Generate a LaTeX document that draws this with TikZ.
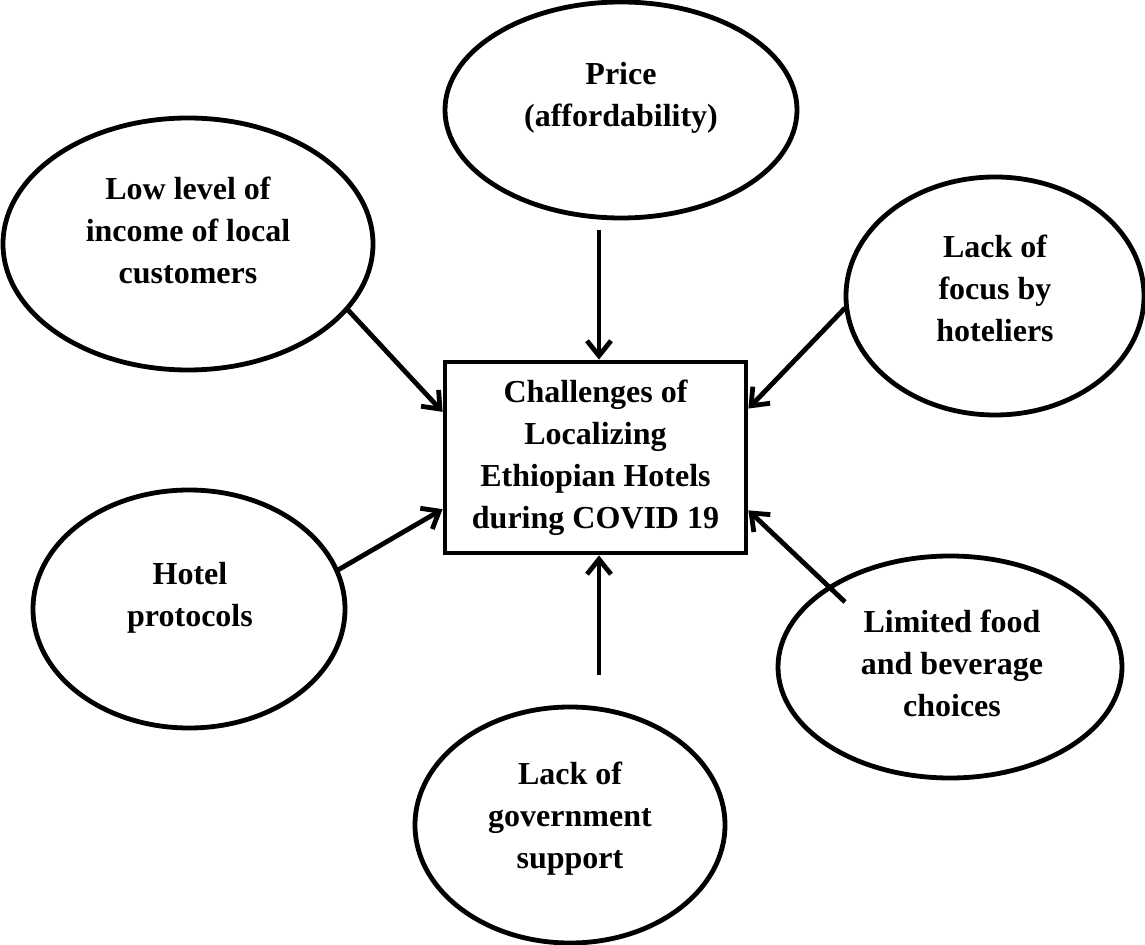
\documentclass[tikz,border=0pt]{standalone}
\usepackage{fontspec}
\setmainfont{Liberation Serif}
\usetikzlibrary{arrows.meta,shapes.geometric,calc}
\tikzset{
  oval/.style={ellipse, draw, line width=2.4pt, inner sep=0pt},
  lbl/.style={align=center, font=\fontsize{16}{21}\selectfont\bfseries, inner sep=0pt},
  mainbox/.style={rectangle, draw, line width=2.4pt, minimum width=150.5pt, minimum height=95.5pt,
    align=center, font=\fontsize{16}{21}\selectfont\bfseries, inner sep=0pt},
  conn/.style={line width=2.4pt, -{Straight Barb[length=7.5pt,width=12pt]}},
}
\begin{document}
\begin{tikzpicture}[x=0.5pt,y=-0.5pt]
\useasboundingbox (0,0) rectangle (1145,945);
% ellipses
\node[oval, minimum width=176pt, minimum height=108pt] (price) at (621,110) {};
\node[oval, minimum width=185pt, minimum height=126pt] (low) at (188,244) {};
\node[oval, minimum width=149pt, minimum height=119pt] (focus) at (995,296) {};
\node[oval, minimum width=156pt, minimum height=119pt] (hotel) at (189,609) {};
\node[oval, minimum width=172pt, minimum height=111pt] (food) at (950,667) {};
\node[oval, minimum width=155pt, minimum height=118pt] (gov) at (570,825) {};
% labels
\node[lbl] (priceT) at (621,98) {Price\\(affordability)};
\node[lbl] (lowT) at (188,230) {Low level of\\income of local\\customers};
\node[lbl] (focusT) at (995,288) {Lack of\\focus by\\hoteliers};
\node[lbl] (hotelT) at (190,598) {Hotel\\protocols};
\node[lbl] (foodT) at (952,663) {Limited food\\and beverage\\choices};
\node[lbl] (govT) at (570,819) {Lack of\\government\\support};
% central box
\node[mainbox] (box) at (595.5,457.5) {Challenges of\\Localizing\\Ethiopian Hotels\\during COVID 19};
% connector tails
\coordinate (priceTail) at (599,230);
\coordinate (lowTail) at (348,310);
\coordinate (focusTail) at (845,308);
\coordinate (hotelTail) at (338,570);
\coordinate (foodTail) at (845,602);
\coordinate (govTail) at (599,675);
% connectors
\draw[conn] (priceTail) -- (priceTail |- box.north);
\draw[conn] (govTail) -- (govTail |- box.south);
\draw[conn] (lowTail) -- ($(box.north west)!0.267!(box.south west)$);
\draw[conn] (hotelTail) -- ($(box.north west)!0.764!(box.south west)$);
\draw[conn] (focusTail) -- ($(box.north east)!0.25!(box.south east)$);
\draw[conn] (foodTail) -- ($(box.north east)!0.77!(box.south east)$);
\end{tikzpicture}
\end{document}
